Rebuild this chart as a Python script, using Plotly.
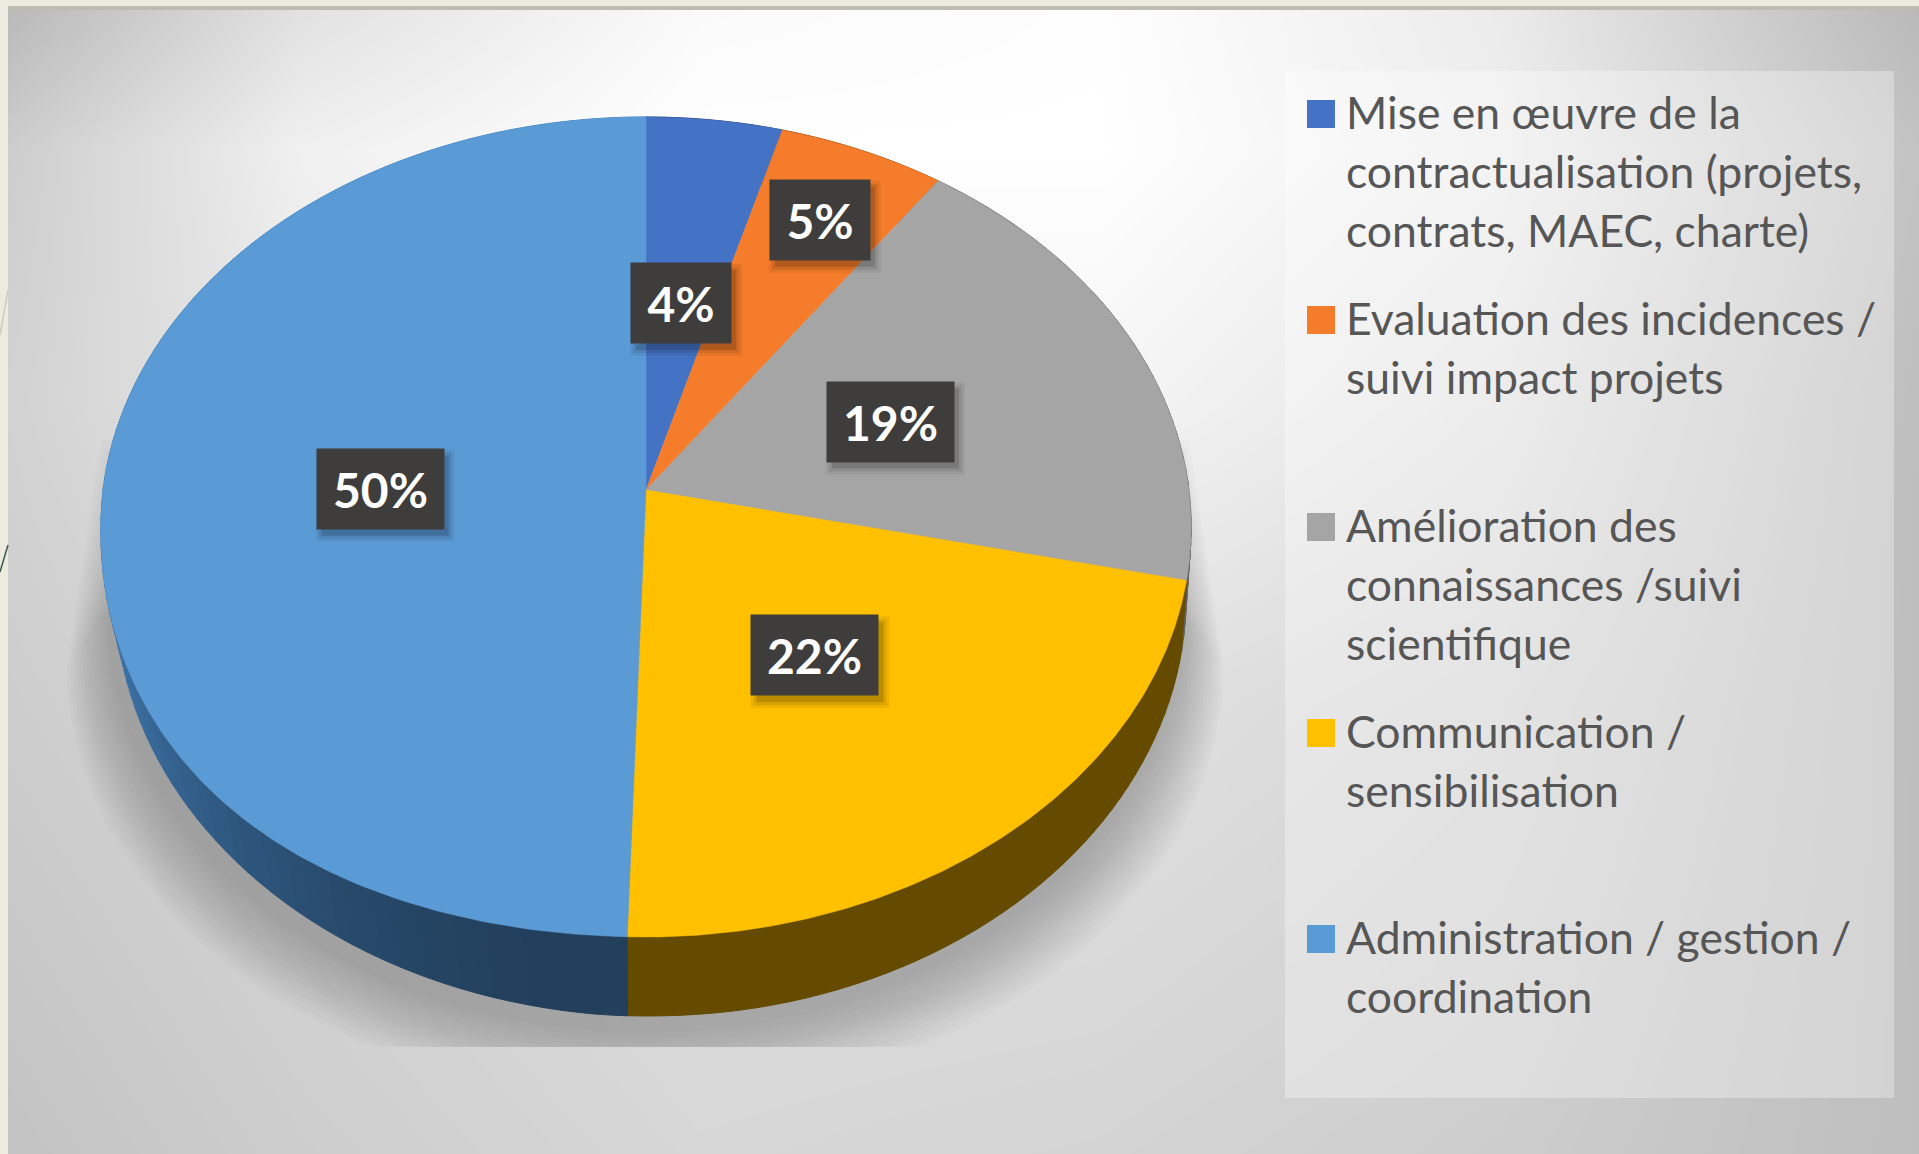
import numpy as np
import plotly.graph_objects as go

# ---------- data ----------
categories = [
    "Mise en œuvre de la contractualisation (projets, contrats, MAEC, charte)",
    "Evaluation des incidences / suivi impact projets",
    "Amélioration des connaissances /suivi scientifique",
    "Communication / sensibilisation",
    "Administration / gestion / coordination",
]
values = [4.4, 5.4, 18.7, 22.0, 49.5]
label_texts = ["4%", "5%", "19%", "22%", "50%"]
legend_lines = [
    ["Mise en œuvre de la", "contractualisation (projets,", "contrats, MAEC, charte)"],
    ["Evaluation des incidences /", "suivi impact projets"],
    ["Amélioration des", "connaissances /suivi", "scientifique"],
    ["Communication /", "sensibilisation"],
    ["Administration / gestion /", "coordination"],
]
colors = ["#4472C4", "#F47C2A", "#A5A5A5", "#FFC000", "#5B9BD5"]
side_dark = ["#2A4476", "#8F4A17", "#636363", "#654B00", "#223F5B"]
side_light = ["#2A4476", "#8F4A17", "#636363", "#654B00", "#4480BA"]
label_radius = [0.49, 0.79, 0.49, 0.49, 0.49]

# background greys (read at a coarse grid)
bg_x = [8, 300, 700, 1100, 1500, 1919]
bg_y = [10, 150, 400, 700, 1154]
bg_grey = [
    [185, 225, 250, 254, 235, 185],
    [205, 240, 255, 255, 238, 195],
    [210, 232, 245, 245, 228, 190],
    [205, 215, 225, 225, 215, 190],
    [195, 205, 215, 212, 205, 190],
]

# ---------- layout geometry (pixels of the 1919x1154 page) ----------
W, H = 1919, 1154
CX, CY = 646, 490              # apex of slices
B, A, K = 543, 406.7, 0.0902   # perspective projection of the pie disc
RIM_C = (645, 527, 545, 410)   # ellipse the disc projects to
BASE_C = (650, 596, 535, 420)  # ellipse of the bottom edge of the wall
BULGE = 44                     # extra fullness of the lower-left rim


def project_base(theta, r=1.0):
    u, v = r * np.sin(theta), r * np.cos(theta)
    d = 1 + K * v
    return CX + B * u / d, CY - A * v / d


def project(theta, r=1.0):
    x, y = project_base(theta, r)
    phi = np.asarray(theta) - np.pi
    bulge = np.where((phi > 0) & (phi < np.pi / 2), BULGE * np.sin(phi) ** 2 * np.cos(phi), 0.0)
    return x, y + bulge * r ** 3


def wall_bottom(theta):
    x, y = project_base(theta)
    x2 = BASE_C[0] + BASE_C[2] / RIM_C[2] * (x - RIM_C[0])
    y2 = BASE_C[1] + BASE_C[3] / RIM_C[3] * (y - RIM_C[1])
    return x2 - 5 * np.exp(-((x - 626) / 60) ** 2), y2


def hex_rgb(h):
    return np.array([int(h[i:i + 2], 16) for i in (1, 3, 5)], float)


fig = go.Figure()

# background gradient
fig.add_trace(go.Heatmap(x=bg_x, y=bg_y, z=bg_grey, zmin=0, zmax=255, zsmooth="best",
                         colorscale=[[0, "#000000"], [1, "#ffffff"]], showscale=False,
                         hoverinfo="skip"))

# soft shadow under the pie: a half ellipse below a trapezoid, stacked to fake a blur
t = np.linspace(0, np.pi, 160)
LAYERS = 14
for i in range(LAYERS):
    f = i / (LAYERS - 1)
    rx, ry, y0 = 578 - 40 * f, 430 - 10 * f, 668 - 55 * f
    top = 440 + 120 * f
    inset = 34
    sx = np.r_[645 + rx * np.cos(t), 645 - rx + inset, 645 + rx - inset, 645 + rx]
    sy = np.r_[np.minimum(y0 + ry * np.sin(t), 1047), top, top, y0]
    fig.add_trace(go.Scatter(x=sx, y=sy, mode="lines", fill="toself", hoverinfo="skip",
                             fillcolor="rgba(90,90,90,0.026)", line=dict(width=0), showlegend=False))

# legend panel
px, py = [1285, 1894, 1894, 1285, 1285], [71, 71, 1098, 1098, 71]
fig.add_trace(go.Scatter(x=px, y=py, mode="lines", fill="toself", hoverinfo="skip",
                         fillcolor="rgba(255,255,255,0.32)", line=dict(width=0), showlegend=False))

# slices
edges = np.cumsum([0] + values) / sum(values) * 2 * np.pi

# extruded wall, drawn piecewise so that it can darken toward the front
for k in range(len(values)):
    a0, a1 = edges[k], edges[k + 1]
    n = max(2, int((a1 - a0) / 0.03))
    grid = np.linspace(a0, a1, n + 1)
    for j in range(n):
        th = np.linspace(grid[j], grid[j + 1], 4)
        x1, y1 = project(th)
        x2, y2 = wall_bottom(th)
        f = np.clip(-np.cos((grid[j] + grid[j + 1]) / 2), 0, 1) ** 1.3
        c = hex_rgb(side_light[k]) * (1 - f) + hex_rgb(side_dark[k]) * f
        col = "rgb(%d,%d,%d)" % tuple(c)
        fig.add_trace(go.Scatter(x=np.r_[x1, x2[::-1], x1[0]], y=np.r_[y1, y2[::-1], y1[0]],
                                 mode="lines", fill="toself", fillcolor=col, hoverinfo="skip",
                                 line=dict(width=1, color=col), showlegend=False))

# top faces
for k, name in enumerate(categories):
    th = np.linspace(edges[k], edges[k + 1], 200)
    x1, y1 = project(th)
    fig.add_trace(go.Scatter(x=np.r_[CX, x1, CX], y=np.r_[CY, y1, CY], mode="lines", fill="toself",
                             fillcolor=colors[k], line=dict(width=0.5, color=colors[k]),
                             name=name, text=label_texts[k], hoverinfo="name+text", showlegend=False))

# legend swatches and text
SW_X, TXT_X = 1321, 1344
SW_Y = [114, 320, 527, 733, 939]
PITCH = 59
annotations = []
for k, lines in enumerate(legend_lines):
    fig.add_trace(go.Scatter(x=[SW_X], y=[SW_Y[k]], mode="markers", hoverinfo="skip", showlegend=False,
                             marker=dict(symbol="square", size=28, color=colors[k], line=dict(width=0))))
    for i, line in enumerate(lines):
        annotations.append(dict(x=TXT_X, y=SW_Y[k] - 3 + i * PITCH, text=line, xref="x", yref="y",
                                xanchor="left", yanchor="middle", showarrow=False,
                                font=dict(family="Lato", size=44.5, color="#565656")))

# data labels
shapes = []
for k, txt in enumerate(label_texts):
    mid = (edges[k] + edges[k + 1]) / 2
    lx, ly = project(mid, label_radius[k])
    ly = float(ly) + 2
    w = 98 if len(txt) == 2 else 125
    h = 78
    for grow, al in ((7, 0.06), (4, 0.09), (1, 0.14)):
        shapes.append(dict(type="rect", xref="x", yref="y", layer="above", line=dict(width=0),
                           x0=lx - w / 2 + 5 - grow, x1=lx + w / 2 + 5 + grow,
                           y0=ly - h / 2 + 7 - grow, y1=ly + h / 2 + 7 + grow,
                           fillcolor="rgba(0,0,0,%.2f)" % al))
    annotations.append(dict(x=lx, y=ly, text="<b>%s</b>" % txt, xref="x", yref="y", showarrow=False,
                            width=w, height=h, align="center", valign="middle", bgcolor="#3E3D3C",
                            xanchor="center", yanchor="middle",
                            font=dict(family="Lato", size=48, color="#FFFFFF")))

# slide frame
BEIGE = "#EDEADF"
shapes += [
    dict(type="rect", xref="x", yref="y", layer="above", x0=0, x1=8, y0=0, y1=H, fillcolor=BEIGE, line=dict(width=0)),
    dict(type="rect", xref="x", yref="y", layer="above", x0=0, x1=W, y0=0, y1=6, fillcolor=BEIGE, line=dict(width=0)),
    dict(type="rect", xref="x", yref="y", layer="above", x0=8, x1=W, y0=6, y1=10, fillcolor="#BDBBB2", line=dict(width=0)),
    dict(type="line", xref="x", yref="y", layer="above", x0=0, x1=8, y0=572, y1=545, line=dict(color="#3E5A50", width=1.5)),
    dict(type="line", xref="x", yref="y", layer="above", x0=0, x1=8, y0=335, y1=290, line=dict(color="#C9CCBE", width=1.5)),
]

fig.update_layout(
    width=W, height=H, margin=dict(l=0, r=0, t=0, b=0), autosize=False,
    paper_bgcolor=BEIGE, plot_bgcolor=BEIGE, showlegend=False,
    xaxis=dict(range=[0, W], visible=False, fixedrange=True),
    yaxis=dict(range=[H, 0], visible=False, fixedrange=True),
    shapes=shapes, annotations=annotations,
)
fig.write_html("out.html", config={"displayModeBar": False},
               post_script="document.body.style.margin='0';document.body.style.overflow='hidden';")
